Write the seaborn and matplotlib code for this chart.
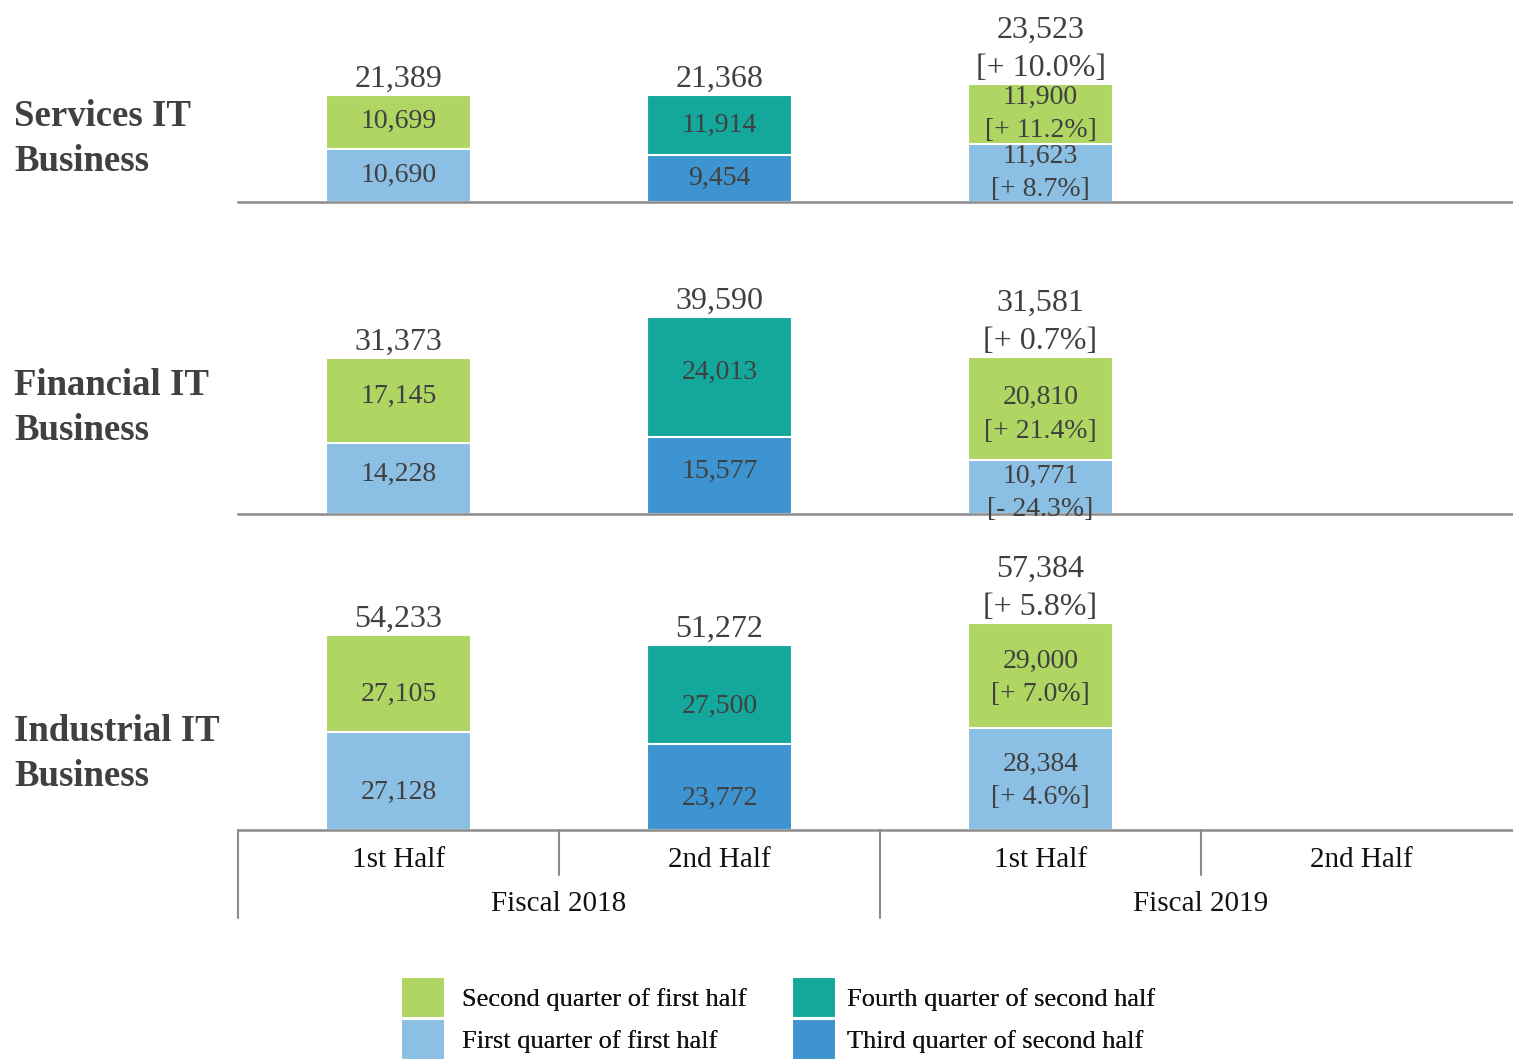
import matplotlib.pyplot as plt
import matplotlib.transforms as mtransforms
import pandas as pd
import seaborn as sns
from matplotlib.lines import Line2D
from matplotlib.patches import Patch

# periods on the shared x axis (last one has no data yet)
periods = ["FY2018 1H", "FY2018 2H", "FY2019 1H", "FY2019 2H"]
half_labels = ["1st Half", "2nd Half", "1st Half", "2nd Half"]
fiscal_labels = ["Fiscal 2018", "Fiscal 2019"]

segment_names = ["Services IT\nBusiness", "Financial IT\nBusiness", "Industrial IT\nBusiness"]

lower_quarter = ["First quarter of first half", "Third quarter of second half", "First quarter of first half"]
upper_quarter = ["Second quarter of first half", "Fourth quarter of second half", "Second quarter of first half"]

services_lower = [10690, 9454, 11623]
services_upper = [10699, 11914, 11900]
services_total = [21389, 21368, 23523]
services_growth = ["+ 8.7%", "+ 11.2%", "+ 10.0%"]  # lower, upper, total for FY2019 1H

financial_lower = [14228, 15577, 10771]
financial_upper = [17145, 24013, 20810]
financial_total = [31373, 39590, 31581]
financial_growth = ["- 24.3%", "+ 21.4%", "+ 0.7%"]

industrial_lower = [27128, 23772, 28384]
industrial_upper = [27105, 27500, 29000]
industrial_total = [54233, 51272, 57384]
industrial_growth = ["+ 4.6%", "+ 7.0%", "+ 5.8%"]

legend_order = [
    "Second quarter of first half",
    "First quarter of first half",
    "Fourth quarter of second half",
    "Third quarter of second half",
]
colors = {
    "Second quarter of first half": "#AFD563",
    "First quarter of first half": "#8CBFE4",
    "Fourth quarter of second half": "#14A89D",
    "Third quarter of second half": "#3D94D1",
}

sns.set_theme(style="white")
plt.rcParams["font.family"] = ["Liberation Serif", "DejaVu Serif"]

W, H = 1513, 1061
fig = plt.figure(figsize=(W / 100, H / 100), dpi=100)

TEXT = "#404040"
LINE = "#8a8a8a"
UNIT_PX = 321  # width of one category slot


def panel_axes(top_px, bottom_px):
    return fig.add_axes([238 / W, 1 - bottom_px / H, 4 * UNIT_PX / W, (bottom_px - top_px) / H])


# name, data, axes pixel extent, y max, label centre (px),
# in-bar label nudges in points (+ = down) for one-line / two-line labels
panels = [
    (segment_names[0], services_lower, services_upper, services_total, services_growth,
     (0, 202), 40400, 139, (0, 0)),
    (segment_names[1], financial_lower, financial_upper, financial_total, financial_growth,
     (250, 514), 53100, 408, (-3, 4)),
    (segment_names[2], industrial_lower, industrial_upper, industrial_total, industrial_growth,
     (560, 830), 75000, 754, (8, 1.5)),
]

axes = []
for name, lower, upper, total, growth, (top_px, bottom_px), ymax, name_y, nudges in panels:
    ax = panel_axes(top_px, bottom_px)
    upper_df = pd.DataFrame({"period": periods[:3], "value": total, "quarter": upper_quarter})
    lower_df = pd.DataFrame({"period": periods[:3], "value": lower, "quarter": lower_quarter})

    for df in (upper_df, lower_df):
        sns.barplot(
            data=df, x="period", y="value", hue="quarter", order=periods,
            hue_order=legend_order, palette=colors, dodge=False, width=0.452,
            saturation=1, errorbar=None, edgecolor="white", linewidth=1.5,
            legend=False, ax=ax,
        )

    ax.set_xlim(-0.5, 3.5)
    ax.set_ylim(0, ymax)
    ax.set_xlabel("")
    ax.set_ylabel("")
    ax.set_xticks([])
    ax.set_yticks([])
    for side in ("top", "left", "right"):
        ax.spines[side].set_visible(False)
    ax.spines["bottom"].set_color(LINE)
    ax.spines["bottom"].set_linewidth(1.8)

    for i in range(3):
        lo_txt = f"{lower[i]:,}"
        up_txt = f"{upper[i]:,}"
        tot_txt = f"{total[i]:,}"
        dy = -nudges[0]
        if i == 2:
            lo_txt += f"\n[{growth[0]}]"
            up_txt += f"\n[{growth[1]}]"
            tot_txt += f"\n[{growth[2]}]"
            dy = -nudges[1]
        for yc, txt in ((lower[i] / 2, lo_txt), (lower[i] + upper[i] / 2, up_txt)):
            ax.annotate(txt, xy=(i, yc), xytext=(0, dy), textcoords="offset points",
                        ha="center", va="center", fontsize=20, color=TEXT,
                        linespacing=1.45, annotation_clip=False)
        ax.annotate(tot_txt, xy=(i, total[i]), xytext=(0, 1), textcoords="offset points",
                    ha="center", va="bottom", fontsize=23, color=TEXT, linespacing=1.4,
                    annotation_clip=False)

    fig.text(14 / W, 1 - name_y / H, name, ha="left", va="center", fontsize=26.5,
             fontweight="bold", color=TEXT, linespacing=1.38)
    axes.append(ax)

# category axis under the bottom panel
ax = axes[-1]
trans = mtransforms.blended_transform_factory(ax.transData, fig.transFigure)
for x, y_end in [(-0.5, 918), (0.5, 875), (1.5, 918), (2.5, 875)]:
    fig.add_artist(Line2D([x, x], [1 - 830 / H, 1 - y_end / H], transform=trans,
                          color=LINE, linewidth=1.5))
for i, lab in enumerate(half_labels):
    fig.text(i, 1 - 860 / H, lab, transform=trans, ha="center", va="center",
             fontsize=21, color="#111111")
for j, lab in enumerate(fiscal_labels):
    fig.text(0.5 + 2 * j, 1 - 904 / H, lab, transform=trans, ha="center", va="center",
             fontsize=21, color="#111111")

# legend: two columns, drawn as two legends so each column can be placed on its own
handles = [Patch(facecolor=colors[k], edgecolor="white", linewidth=1.5) for k in legend_order]
for col, (x0, pad) in enumerate([(401, 0.68), (792, 0.42)]):
    leg = fig.legend(
        handles[2 * col:2 * col + 2], legend_order[2 * col:2 * col + 2], loc="upper left",
        bbox_to_anchor=(x0 / W, 1 - 977 / H), frameon=False, fontsize=19,
        handlelength=1.65, handleheight=2.0, handletextpad=pad, labelspacing=0.05,
        borderpad=0, borderaxespad=0, labelcolor="#111111",
    )
    fig.add_artist(leg)

fig.savefig("out.png", dpi=100)
